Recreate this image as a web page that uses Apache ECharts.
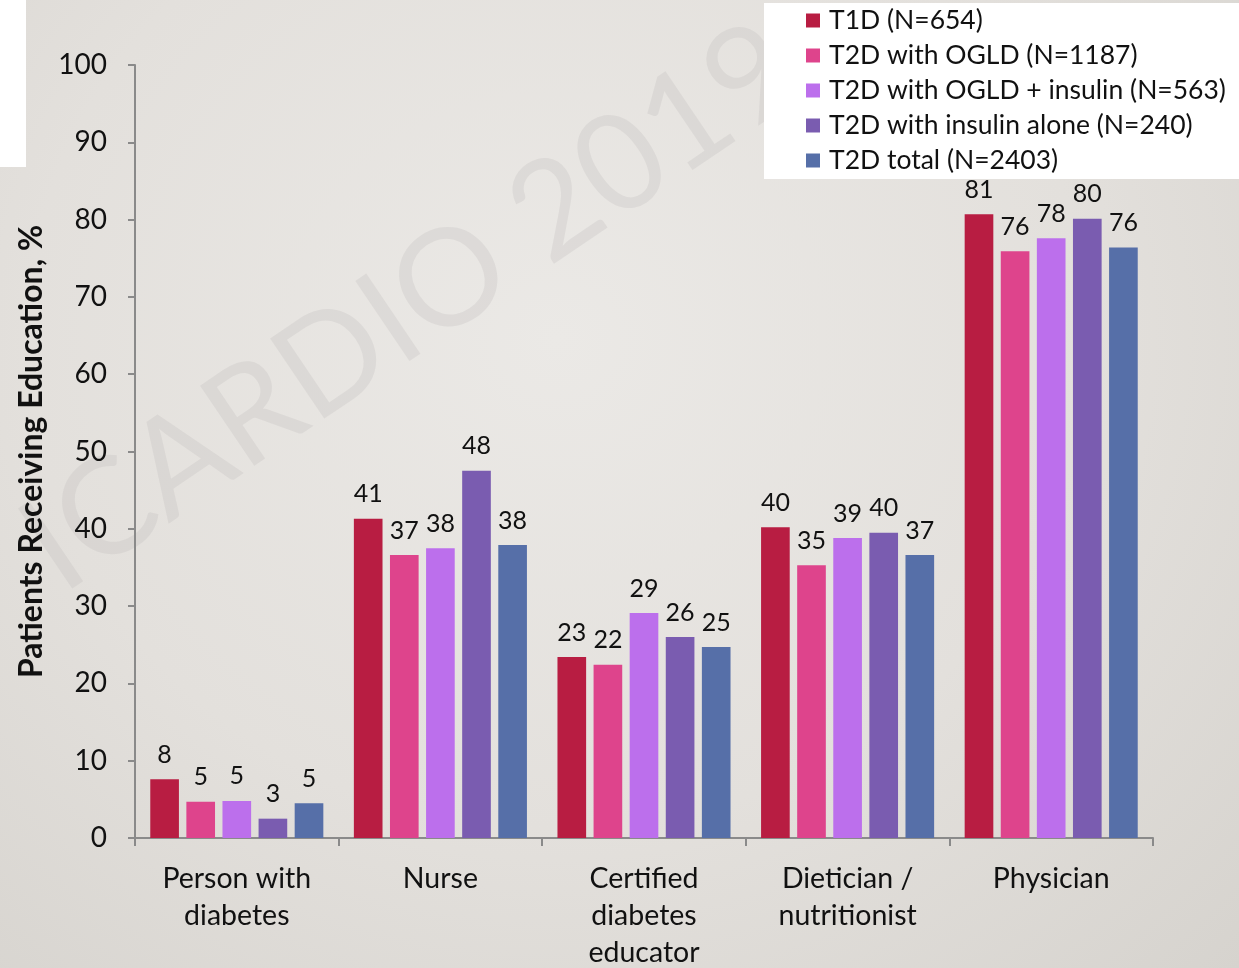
<!DOCTYPE html>
<html><head><meta charset="utf-8">
<script src="https://cdn.jsdelivr.net/npm/echarts@6/dist/echarts.min.js"></script>
<style>
html,body{margin:0;padding:0;}
#wrap{position:relative;width:1239px;height:968px;background:radial-gradient(ellipse at 45% 35%, #ebe9e6 0%, #e3e0dc 55%, #d6d3ce 100%);overflow:hidden;}
#c{position:absolute;left:0;top:0;width:1239px;height:968px;}
#patch{position:absolute;left:0;top:0;width:26px;height:167px;background:#fff;}
</style></head>
<body><div id="wrap"><div id="patch"></div><div id="c"></div></div>
<script>
const categories = ['Person with\ndiabetes', 'Nurse', 'Certified\ndiabetes\neducator', 'Dietician /\nnutritionist', 'Physician'];
const seriesNames = ['T1D (N=654)', 'T2D with OGLD (N=1187)', 'T2D with OGLD + insulin (N=563)', 'T2D with insulin alone (N=240)', 'T2D total (N=2403)'];
const t1d = [7.6, 41.3, 23.4, 40.2, 80.7];
const t2dOgld = [4.7, 36.6, 22.4, 35.3, 75.9];
const t2dOgldIns = [4.8, 37.5, 29.1, 38.8, 77.6];
const t2dIns = [2.5, 47.5, 26.0, 39.5, 80.1];
const t2dTotal = [4.5, 37.9, 24.7, 36.6, 76.4];
const colors = ['#B81D42', '#DE448C', '#BC6FEC', '#7A5CB0', '#566FA8'];
const yTicks = [0, 10, 20, 30, 40, 50, 60, 70, 80, 90, 100];

const FONT = 'Lato, "Open Sans", sans-serif';
const allData = [t1d, t2dOgld, t2dOgldIns, t2dIns, t2dTotal];
const chart = echarts.init(document.getElementById('c'));
chart.setOption({
  backgroundColor: 'transparent',
  textStyle: {fontFamily: FONT},
  graphic: [{
    type: 'text', z: -10, left: 0, top: 0,
    x: 0, y: 640, rotation: Math.PI * 34 / 180,
    style: {text: 'ICARDIO 2019', font: '400 135px ' + FONT, fill: 'rgba(190,188,185,0.28)'}
  }],
  legend: {
    orient: 'vertical', left: 764, top: 3,
    backgroundColor: '#fff',
    padding: [4, 60, 5, 42],
    itemWidth: 14, itemHeight: 14, itemGap: 8,
    icon: 'rect',
    textStyle: {fontSize: 26.5, color: '#111', fontFamily: FONT, padding: [0, 0, 0, 4]},
    data: seriesNames
  },
  grid: {left: 135, right: 86, top: 65, bottom: 130, containLabel: false, outerBoundsMode: 'none'},
  xAxis: {
    type: 'category', data: categories,
    axisLine: {lineStyle: {color: '#8a8a8a', width: 2}},
    axisTick: {show: true, length: 8, lineStyle: {color: '#8a8a8a', width: 2}},
    axisLabel: {fontSize: 28.5, lineHeight: 37, color: '#111', margin: 22, interval: 0, fontFamily: FONT}
  },
  yAxis: {
    type: 'value', min: 0, max: 100, interval: 10,
    name: 'Patients Receiving Education, %', nameLocation: 'middle', nameGap: 82,
    nameTextStyle: {fontSize: 32, fontWeight: 'bold', color: '#111', fontFamily: FONT},
    axisLine: {show: true, lineStyle: {color: '#8a8a8a', width: 2}},
    axisTick: {show: true, length: 7, lineStyle: {color: '#8a8a8a', width: 2}},
    splitLine: {show: false},
    axisLabel: {fontSize: 28, color: '#111', margin: 28, fontFamily: FONT,
      formatter: v => yTicks.includes(v) ? String(v) : ''}
  },
  series: seriesNames.map((n, i) => ({
    name: n, type: 'bar', data: allData[i],
    itemStyle: {color: colors[i]},
    barGap: '26%', barCategoryGap: '15%',
    label: {show: true, position: 'top', distance: 12, fontSize: 25, color: '#111', fontFamily: FONT,
      formatter: p => Math.round(p.value)}
  }))
});
</script></body></html>
